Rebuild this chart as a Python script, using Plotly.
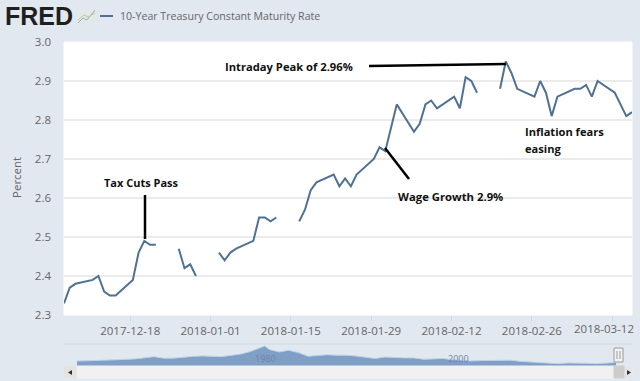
import pandas as pd
import plotly.graph_objects as go

W, H = 640, 381

dates = ["2017-12-06","2017-12-07","2017-12-08","2017-12-11","2017-12-12","2017-12-13","2017-12-14","2017-12-15",
         "2017-12-18","2017-12-19","2017-12-20","2017-12-21","2017-12-22","2017-12-25","2017-12-26","2017-12-27",
         "2017-12-28","2017-12-29","2018-01-01","2018-01-02","2018-01-03","2018-01-04","2018-01-05","2018-01-08",
         "2018-01-09","2018-01-10","2018-01-11","2018-01-12","2018-01-15","2018-01-16","2018-01-17","2018-01-18",
         "2018-01-19","2018-01-22","2018-01-23","2018-01-24","2018-01-25","2018-01-26","2018-01-29","2018-01-30",
         "2018-01-31","2018-02-01","2018-02-02","2018-02-05","2018-02-06","2018-02-07","2018-02-08","2018-02-09",
         "2018-02-12","2018-02-13","2018-02-14","2018-02-15","2018-02-16","2018-02-19","2018-02-20","2018-02-21",
         "2018-02-22","2018-02-23","2018-02-26","2018-02-27","2018-02-28","2018-03-01","2018-03-02","2018-03-05",
         "2018-03-06","2018-03-07","2018-03-08","2018-03-09","2018-03-12","2018-03-13","2018-03-14","2018-03-15"]
rates = [2.33,2.37,2.38,2.39,2.40,2.36,2.35,2.35,
         2.39,2.46,2.49,2.48,2.48,None,2.47,2.42,
         2.43,2.40,None,2.46,2.44,2.46,2.47,2.49,
         2.55,2.55,2.54,2.55,None,2.54,2.57,2.62,
         2.64,2.66,2.63,2.65,2.63,2.66,2.70,2.73,
         2.72,2.78,2.84,2.77,2.79,2.84,2.85,2.83,
         2.86,2.83,2.91,2.90,2.87,None,2.88,2.95,
         2.92,2.88,2.86,2.90,2.87,2.81,2.86,2.88,
         2.88,2.89,2.86,2.90,2.87,2.84,2.81,2.82]
x_labels = ["2017-12-18","2018-01-01","2018-01-15","2018-01-29","2018-02-12","2018-02-26","2018-03-12"]
y_ticks = [2.3,2.4,2.5,2.6,2.7,2.8,2.9,3.0]

nav_years = [1962,1964,1966,1968,1970,1971,1972,1974,1975,1977,1978,1979,1980,1981.5,1982,1983,1984,1985,1986,1987,
             1988,1989,1990,1991,1992,1993,1994,1995,1996,1997,1998,1999,2000,2001,2002,2003,2004,2005,2006,2007,
             2008,2009,2010,2011,2012,2013,2014,2015,2016,2017,2018]
nav_rates = [3.9,4.2,4.9,5.6,7.4,6.2,6.2,7.6,8.0,7.4,8.4,9.4,11.4,15.8,13.0,11.1,12.4,10.6,7.7,8.4,
             8.9,8.5,8.5,7.9,7.0,5.9,7.1,6.6,6.4,6.4,5.3,5.6,6.0,5.0,4.6,4.0,4.3,4.3,4.8,4.6,
             3.7,3.3,3.2,2.8,1.8,2.4,2.5,2.1,1.8,2.3,2.8]

BG = "#e1e8f0"
LINE = "#4f7193"
GREY = "#666666"

def px(x): return x / W
def py(y): return 1 - y / H

def line(x0, y0, x1, y1, color="#000000", width=2.5):
    return dict(type="line", xref="paper", yref="paper", x0=px(x0), y0=py(y0), x1=px(x1), y1=py(y1),
                line=dict(color=color, width=width))

def rect(x0, y0, x1, y1, fill, border=None, layer="above"):
    return dict(type="rect", xref="paper", yref="paper", x0=px(x0), y0=py(y0), x1=px(x1), y1=py(y1),
                fillcolor=fill, line=dict(color=border or fill, width=1), layer=layer)

def label(x, y, text, size=12, color="#111111", bold=True, anchor="left", family="Open Sans", **kw):
    return dict(xref="paper", yref="paper", x=px(x), y=py(y), text=f"<b>{text}</b>" if bold else text, showarrow=False,
                xanchor=anchor, yanchor="middle", font=dict(family=family, size=size, color=color),
                borderpad=0, **kw)

fig = go.Figure()
fig.add_trace(go.Scatter(x=dates, y=rates, mode="lines", line=dict(color=LINE, width=2), connectgaps=False,
                         showlegend=False, xaxis="x", yaxis="y"))
fig.add_trace(go.Scatter(x=nav_years, y=nav_rates, mode="lines", fill="tozeroy", fillcolor="#7f9fc6",
                         line=dict(color="#bcd3ea", width=1), showlegend=False, xaxis="x2", yaxis="y2"))

tick_pos = [(pd.Timestamp(d) - pd.Timedelta(hours=11)).isoformat() for d in x_labels]
fig.update_layout(
    width=W, height=H, margin=dict(l=0, r=0, t=0, b=0, pad=0, autoexpand=False), paper_bgcolor=BG, plot_bgcolor=BG,
    xaxis=dict(domain=[px(64), px(632)], anchor="y", range=["2017-12-06", "2018-03-15"], type="date",
               tickvals=tick_pos, ticktext=x_labels[:-1] + [""], ticks="outside", ticklen=5, tickcolor="#cfd8e2",
               showgrid=False, zeroline=False, showline=False, tickangle=0,
               tickfont=dict(family="Open Sans", size=11.5, color=GREY)),
    yaxis=dict(domain=[py(315), py(42)], anchor="x", range=[2.3, 3.0], tickvals=y_ticks,
               tickformat=".1f", gridcolor="#ebebeb", gridwidth=1.5, zeroline=False, showline=False, ticks="",
               ticklabelstandoff=12, tickfont=dict(family="Open Sans", size=11.5, color=GREY)),
    xaxis2=dict(domain=[px(64), px(632)], anchor="y2", range=[1960.65, 2019.66], visible=False),
    yaxis2=dict(domain=[py(366), py(345)], anchor="x2", range=[0, 16.6], visible=False),
    shapes=[
        rect(64, 42, 632, 315, "#ffffff", layer="below"),
        line(64, 344, 632, 344, "#cfd7e0", 1),
        rect(64, 366, 632, 378, "#f1f1f1"),
        rect(64, 366, 76, 378, "#e3e3e3"),
        rect(614, 366, 625, 378, "#cccccc"),
        rect(625, 366, 632, 378, "#e6e6e6"),
        rect(614, 348, 623, 362, "#f2f2f2", "#9a9a9a"),
        line(617, 351, 617, 359, "#9a9a9a", 1),
        line(620, 351, 620, 359, "#9a9a9a", 1),
        dict(type="path", xref="paper", yref="paper", layer="above", fillcolor="#333333", line=dict(width=0),
             path=f"M {px(72)} {py(370)} L {px(68)} {py(372.5)} L {px(72)} {py(375)} Z"),
        dict(type="path", xref="paper", yref="paper", layer="above", fillcolor="#333333", line=dict(width=0),
             path=f"M {px(627)} {py(370)} L {px(631)} {py(372.5)} L {px(627)} {py(375)} Z"),
        # logo chart icon
        rect(77, 9, 96, 24, "#e3e8ea"),
        line(78, 23, 83, 18, "#9fb49a", 1), line(83, 18, 87, 20, "#9fb49a", 1), line(87, 20, 95, 10, "#9fb49a", 1),
        line(78, 20, 84, 15, "#b9c5a8", 1), line(84, 15, 88, 17, "#b9c5a8", 1), line(88, 17, 95, 13, "#b9c5a8", 1),
        # legend key
        line(100, 16, 113, 16, "#4f7193", 2),
        # hand-drawn callouts
        line(145, 195, 145, 239, "#000000", 2.5),
        line(385, 148, 409, 179, "#000000", 2.5),
        line(369, 66, 506, 64, "#000000", 2.5),
    ],
    annotations=[
        label(4, 16, "FRED", size=25, color="#1f1f1f", family="Liberation Sans"),
        label(118.5, 16, "10-Year Treasury Constant Maturity Rate", size=10.6, color=GREY, bold=False),
        label(16, 178, "Percent", size=11.5, color=GREY, bold=False, anchor="center", textangle=-90),
        label(604, 328, x_labels[-1], size=11.5, color=GREY, bold=False, anchor="center"),
        label(224, 66, "Intraday Peak of 2.96%", size=11.2),
        label(103, 182, "Tax Cuts Pass", size=11),
        label(397, 196, "Wage Growth 2.9%", size=11.3),
        label(524, 131, "Inflation fears", size=11.1),
        label(524, 148, "easing", size=11.1),
        label(265, 358, "1980", size=9, color="#6f84a3", bold=False, anchor="center"),
        label(458, 358, "2000", size=9, color="#6f84a3", bold=False, anchor="center"),
    ],
)
fig.write_html("out.html", config=dict(displayModeBar=False),
               post_script="document.body.style.margin='0';document.body.style.overflow='hidden';")
